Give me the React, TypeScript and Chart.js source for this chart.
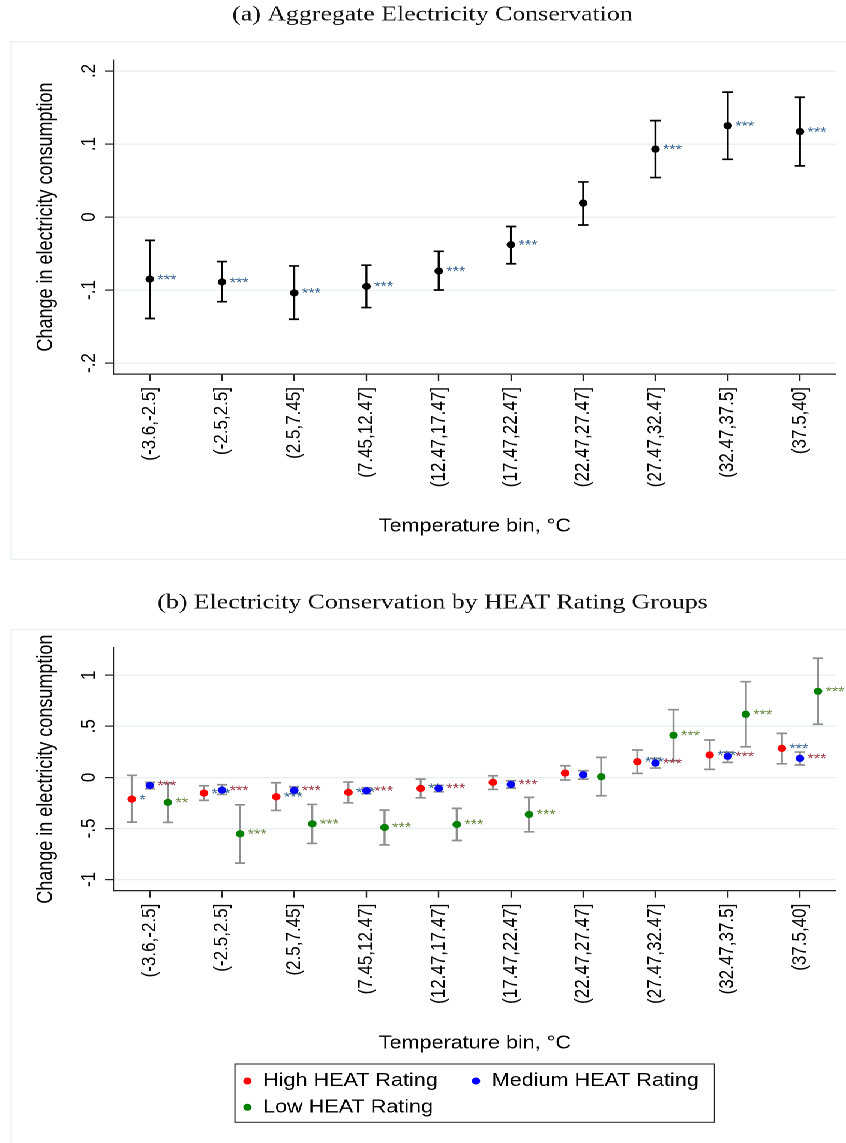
import React, { useEffect, useRef } from "react";
import { Chart, registerables } from "chart.js";

Chart.register(...registerables);

// ---------- data ----------
const categories = [
  "(-3.6,-2.5]",
  "(-2.5,2.5]",
  "(2.5,7.45]",
  "(7.45,12.47]",
  "(12.47,17.47]",
  "(17.47,22.47]",
  "(22.47,27.47]",
  "(27.47,32.47]",
  "(32.47,37.5]",
  "(37.5,40]",
];

const aggCoef = [-0.085, -0.089, -0.104, -0.095, -0.074, -0.038, 0.019, 0.093, 0.125, 0.117];
const aggLo = [-0.139, -0.116, -0.14, -0.124, -0.1, -0.064, -0.011, 0.054, 0.079, 0.07];
const aggHi = [-0.032, -0.061, -0.067, -0.066, -0.047, -0.013, 0.048, 0.132, 0.171, 0.164];
const aggStars = ["***", "***", "***", "***", "***", "***", "", "***", "***", "***"];

const highCoef = [-0.213, -0.154, -0.19, -0.147, -0.108, -0.049, 0.042, 0.153, 0.219, 0.284];
const highLo = [-0.438, -0.225, -0.324, -0.249, -0.2, -0.118, -0.026, 0.039, 0.078, 0.133];
const highHi = [0.02, -0.082, -0.053, -0.046, -0.017, 0.016, 0.114, 0.268, 0.366, 0.431];

const medCoef = [-0.079, -0.125, -0.127, -0.131, -0.108, -0.069, 0.025, 0.14, 0.206, 0.186];
const medLo = [-0.112, -0.167, -0.16, -0.161, -0.141, -0.105, -0.017, 0.091, 0.147, 0.121];
const medHi = [-0.049, -0.072, -0.092, -0.102, -0.078, -0.033, 0.065, 0.186, 0.248, 0.248];

const lowCoef = [-0.245, -0.553, -0.455, -0.49, -0.461, -0.363, 0.006, 0.412, 0.618, 0.843];
const lowLo = [-0.441, -0.84, -0.647, -0.661, -0.618, -0.533, -0.18, 0.163, 0.3, 0.52];
const lowHi = [-0.059, -0.269, -0.265, -0.321, -0.304, -0.196, 0.196, 0.663, 0.937, 1.167];

// significance labels as they appear beside each group's marker
const starsBesideHigh = ["*", "***", "***", "***", "**", "", "", "***", "***", "***"];
const starsBesideMedium = ["***", "***", "***", "***", "***", "***", "", "***", "***", "***"];
const starsBesideLow = ["**", "***", "***", "***", "***", "***", "", "***", "***", "***"];

const aggYTicks = [-0.2, -0.1, 0, 0.1, 0.2];
const aggYTickLabels = ["-.2", "-.1", "0", ".1", ".2"];
const groupYTicks = [-1, -0.5, 0, 0.5, 1];
const groupYTickLabels = ["-1", "-.5", "0", ".5", "1"];

const groupNames = ["High HEAT Rating", "Medium HEAT Rating", "Low HEAT Rating"];

const titleA = "(a) Aggregate Electricity Conservation";
const titleB = "(b) Electricity Conservation by HEAT Rating Groups";
const yTitle = "Change in electricity consumption";
const xTitle = "Temperature bin, °C";

// ---------- styling ----------
const STRETCH = 1.2;
const W = 705;
const SANS = '"Liberation Sans", Arial, sans-serif';
const SERIF = '"Liberation Serif", "Times New Roman", serif';
const GRID = "#e5eef0";
const AXIS = "#222222";
const FRAME = "#e3ebeb";

type Series = {
  name?: string;
  offset: number;
  coef: number[];
  lo: number[];
  hi: number[];
  color: string;
  barColor: string;
  stars: string[];
  starColor: string;
};

type Legend = {
  box: [number, number, number, number];
  items: { x: number; y: number }[];
};

type Panel = {
  height: number;
  title: string;
  titleY: number;
  frameTop: number;
  frameBottom: number;
  plotTop: number;
  plotBottom: number;
  yMin: number;
  yMax: number;
  yTicks: number[];
  yTickLabels: string[];
  xTitleY: number;
  series: Series[];
  legend?: Legend;
};

const PLOT_LEFT = 94.75;
const PLOT_RIGHT = 696.7;

function makePlugin(p: Panel) {
  return {
    id: "panelDecor",
    beforeDraw(chart: any) {
      const ctx = chart.ctx as CanvasRenderingContext2D;
      const area = chart.chartArea;
      const ys = chart.scales.y;
      ctx.save();
      // frame
      ctx.strokeStyle = FRAME;
      ctx.lineWidth = 1;
      ctx.strokeRect(9.2, p.frameTop, 760, p.frameBottom - p.frameTop);
      // title
      ctx.fillStyle = "#111111";
      ctx.font = `21.5px ${SERIF}`;
      ctx.textAlign = "center";
      ctx.textBaseline = "middle";
      ctx.fillText(p.title, 360.4, p.titleY);
      // y title
      ctx.fillStyle = "#000000";
      ctx.save();
      ctx.translate(38.3, (area.top + area.bottom) / 2);
      ctx.rotate(-Math.PI / 2);
      ctx.font = `18px ${SANS}`;
      ctx.textAlign = "center";
      ctx.textBaseline = "middle";
      ctx.fillText(yTitle, 0, 0);
      ctx.restore();
      // y tick labels (rotated)
      p.yTicks.forEach((v, i) => {
        const py = ys.getPixelForValue(v);
        ctx.save();
        ctx.translate(79, py);
        ctx.rotate(-Math.PI / 2);
        ctx.font = `17px ${SANS}`;
        ctx.textAlign = "center";
        ctx.textBaseline = "alphabetic";
        ctx.fillText(p.yTickLabels[i], 0, 0);
        ctx.restore();
      });
      // x title
      ctx.font = `18px ${SANS}`;
      ctx.textAlign = "center";
      ctx.textBaseline = "middle";
      ctx.fillText(xTitle, (area.left + area.right) / 2, p.xTitleY);
      // legend
      if (p.legend) {
        const [bx, by, bw, bh] = p.legend.box;
        ctx.strokeStyle = "#222222";
        ctx.lineWidth = 1;
        ctx.strokeRect(bx, by, bw, bh);
        p.legend.items.forEach((it, i) => {
          const s = p.series[i];
          ctx.fillStyle = s.color;
          ctx.beginPath();
          ctx.arc(it.x, it.y, 3.5, 0, Math.PI * 2);
          ctx.fill();
          ctx.fillStyle = "#000000";
          ctx.font = `18px ${SANS}`;
          ctx.textAlign = "left";
          ctx.textBaseline = "middle";
          ctx.fillText(s.name || "", it.x + 13, it.y);
        });
      }
      ctx.restore();
    },
    beforeDatasetsDraw(chart: any) {
      const ctx = chart.ctx as CanvasRenderingContext2D;
      const xs = chart.scales.x;
      const ys = chart.scales.y;
      ctx.save();
      p.series.forEach((s) => {
        ctx.strokeStyle = s.barColor;
        ctx.lineWidth = 1.7;
        s.coef.forEach((_, i) => {
          const px = xs.getPixelForValue(i + 1 + s.offset);
          const pLo = ys.getPixelForValue(s.lo[i]);
          const pHi = ys.getPixelForValue(s.hi[i]);
          ctx.beginPath();
          ctx.moveTo(px, pLo);
          ctx.lineTo(px, pHi);
          ctx.moveTo(px - 4.3, pLo);
          ctx.lineTo(px + 4.3, pLo);
          ctx.moveTo(px - 4.3, pHi);
          ctx.lineTo(px + 4.3, pHi);
          ctx.stroke();
        });
      });
      p.series.forEach((s) => {
        ctx.fillStyle = s.starColor;
        ctx.font = `13.6px ${SANS}`;
        ctx.textAlign = "left";
        ctx.textBaseline = "alphabetic";
        s.coef.forEach((v, i) => {
          if (!s.stars[i]) return;
          const px = xs.getPixelForValue(i + 1 + s.offset);
          const py = ys.getPixelForValue(v);
          ctx.fillText(s.stars[i], px + 6.3, py + 4.8);
        });
      });
      ctx.restore();
    },
  };
}

function makeConfig(p: Panel): any {
  return {
    type: "scatter",
    data: {
      datasets: p.series.map((s) => ({
        label: s.name || "",
        data: s.coef.map((v, i) => ({ x: i + 1 + s.offset, y: v })),
        pointRadius: 3.6,
        pointHoverRadius: 3.6,
        pointBackgroundColor: s.color,
        pointBorderWidth: 0,
        showLine: false,
      })),
    },
    options: {
      animation: false,
      responsive: true,
      maintainAspectRatio: false,
      devicePixelRatio: 2,
      events: [],
      layout: {
        padding: { top: p.plotTop, right: W - PLOT_RIGHT, bottom: 0, left: 0 },
      },
      plugins: {
        legend: { display: false },
        tooltip: { enabled: false },
        title: { display: false },
      },
      scales: {
        x: {
          type: "linear",
          min: 0.5,
          max: 10.5,
          afterBuildTicks: (s: any) => {
            s.ticks = categories.map((_, i) => ({ value: i + 1 }));
          },
          afterFit: (s: any) => {
            s.height = p.height - p.plotBottom;
            s.paddingLeft = 0;
            s.paddingRight = 0;
          },
          grid: {
            drawOnChartArea: false,
            drawTicks: true,
            tickLength: 7,
            tickColor: AXIS,
            tickWidth: 1.2,
          },
          border: { display: true, color: AXIS, width: 1.3 },
          ticks: {
            autoSkip: false,
            minRotation: 90,
            maxRotation: 90,
            padding: 6,
            color: "#000000",
            font: { family: SANS, size: 17 },
            callback: (v: any) => categories[Math.round(Number(v)) - 1] ?? "",
          },
        },
        y: {
          type: "linear",
          min: p.yMin,
          max: p.yMax,
          afterBuildTicks: (s: any) => {
            s.ticks = p.yTicks.map((v) => ({ value: v }));
          },
          afterFit: (s: any) => {
            s.width = PLOT_LEFT;
            s.paddingTop = 0;
            s.paddingBottom = 0;
          },
          grid: {
            drawOnChartArea: true,
            color: GRID,
            lineWidth: 1.2,
            drawTicks: true,
            tickLength: 7.25,
            tickColor: AXIS,
            tickWidth: 1.2,
          },
          border: { display: true, color: AXIS, width: 1.1 },
          ticks: { display: false },
        },
      },
    },
    plugins: [makePlugin(p)],
  };
}

const panelA: Panel = {
  height: 580,
  title: titleA,
  titleY: 15,
  frameTop: 41.7,
  frameBottom: 559.3,
  plotTop: 60,
  plotBottom: 374,
  yMin: -0.215,
  yMax: 0.215,
  yTicks: aggYTicks,
  yTickLabels: aggYTickLabels,
  xTitleY: 526.7,
  series: [
    {
      offset: 0,
      coef: aggCoef,
      lo: aggLo,
      hi: aggHi,
      color: "#000000",
      barColor: "#000000",
      stars: aggStars,
      starColor: "#3a6793",
    },
  ],
};

const panelB: Panel = {
  height: 563,
  title: titleB,
  titleY: 23,
  frameTop: 49.3,
  frameBottom: 800,
  plotTop: 67.7,
  plotBottom: 310.7,
  yMin: -1.11,
  yMax: 1.27,
  yTicks: groupYTicks,
  yTickLabels: groupYTickLabels,
  xTitleY: 463.3,
  series: [
    {
      name: groupNames[0],
      offset: -0.25,
      coef: highCoef,
      lo: highLo,
      hi: highHi,
      color: "#ff0000",
      barColor: "#8f8f8f",
      stars: starsBesideHigh,
      starColor: "#3a6793",
    },
    {
      name: groupNames[1],
      offset: 0,
      coef: medCoef,
      lo: medLo,
      hi: medHi,
      color: "#0000ff",
      barColor: "#8f8f8f",
      stars: starsBesideMedium,
      starColor: "#a03c4a",
    },
    {
      name: groupNames[2],
      offset: 0.25,
      coef: lowCoef,
      lo: lowLo,
      hi: lowHi,
      color: "#008000",
      barColor: "#8f8f8f",
      stars: starsBesideLow,
      starColor: "#6a8c45",
    },
  ],
  legend: {
    box: [195.8, 484, 399.6, 58.3],
    items: [
      { x: 206.2, y: 501 },
      { x: 396.7, y: 501 },
      { x: 206.2, y: 527.3 },
    ],
  },
};

function PanelChart({ panel }: { panel: Panel }) {
  const ref = useRef<HTMLCanvasElement | null>(null);
  useEffect(() => {
    if (!ref.current) return;
    const chart = new Chart(ref.current, makeConfig(panel));
    return () => chart.destroy();
  }, [panel]);
  return (
    <div style={{ position: "relative", width: W, height: panel.height }}>
      <canvas ref={ref} />
    </div>
  );
}

export default function App() {
  return (
    <div
      style={{
        position: "absolute",
        top: 0,
        left: 0,
        width: W,
        background: "#ffffff",
        transform: `scaleX(${STRETCH})`,
        transformOrigin: "0 0",
      }}
    >
      <PanelChart panel={panelA} />
      <PanelChart panel={panelB} />
    </div>
  );
}
